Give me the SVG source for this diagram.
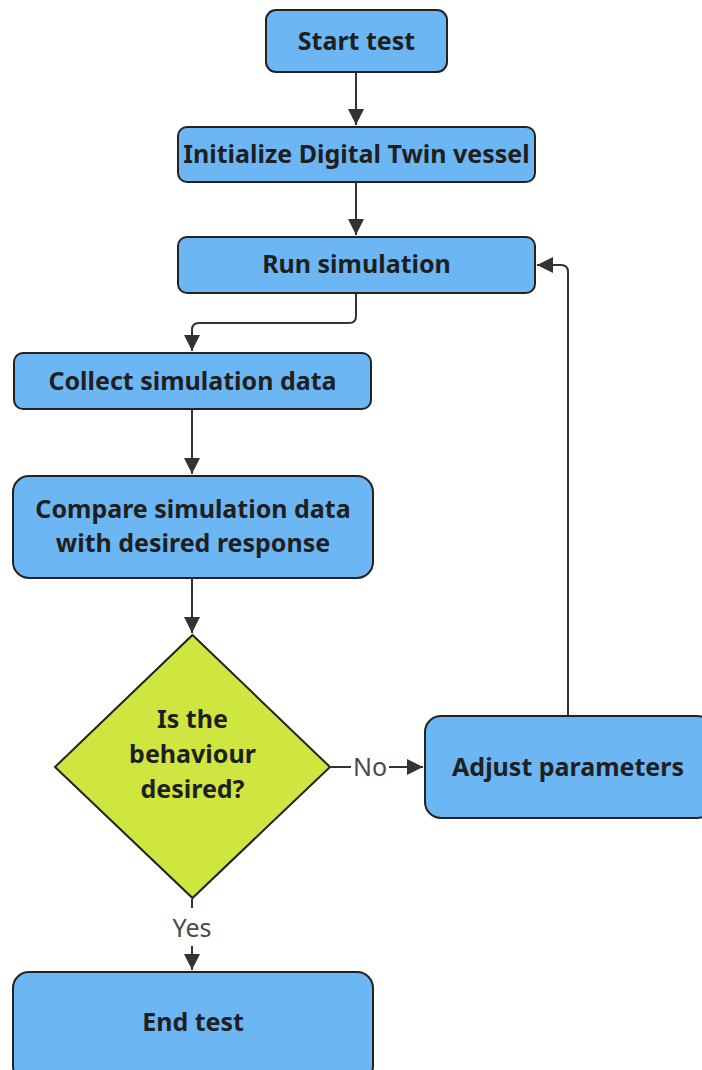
<svg xmlns="http://www.w3.org/2000/svg" width="702" height="1070" viewBox="0 0 702 1070">
  <defs>
    <style>
      .box { fill: #6cb6f3; stroke: #222; stroke-width: 2; }
      .dec { fill: #cfe641; stroke: #222; stroke-width: 2; }
      .lbl { font-family: "Noto Sans", "Open Sans", sans-serif; font-weight: bold; font-size: 25px; fill: #1f1f1f; text-anchor: middle; }
      .edge { fill: none; stroke: #333; stroke-width: 2; }
      .elbl { font-family: "Noto Sans", "Open Sans", sans-serif; font-size: 25px; fill: #4a4a4a; text-anchor: middle; }
    </style>
    <marker id="arrow" viewBox="0 0 16 16" refX="16" refY="8" markerWidth="16" markerHeight="16" markerUnits="userSpaceOnUse" orient="auto">
      <path d="M0,0 L16,8 L0,16 Z" fill="#333"/>
    </marker>
  </defs>

  <g id="connectors">
    <path class="edge" d="M356,73 V125" marker-end="url(#arrow)"/>
    <path class="edge" d="M356,183 V235" marker-end="url(#arrow)"/>
    <path class="edge" d="M356,294 V316 Q356,323 349,323 H199 Q192,323 192,330 V351" marker-end="url(#arrow)"/>
    <path class="edge" d="M192,410 V474" marker-end="url(#arrow)"/>
    <path class="edge" d="M192,579 V633" marker-end="url(#arrow)"/>
    <path class="edge" d="M331,767 H351"/>
    <path class="edge" d="M389,767 H423" marker-end="url(#arrow)"/>
    <text class="elbl" x="370" y="776">No</text>
    <path class="edge" d="M568,715 V272 Q568,265 561,265 H537" marker-end="url(#arrow)"/>
    <path class="edge" d="M192,899 V908"/>
    <path class="edge" d="M192,946 V970" marker-end="url(#arrow)"/>
    <text class="elbl" x="192" y="937">Yes</text>
  </g>

  <g id="start">
    <rect class="box" x="266" y="10" width="181" height="62" rx="10"/>
    <text class="lbl" x="356.5" y="50">Start test</text>
  </g>
  <g id="init">
    <rect class="box" x="178" y="127" width="357" height="55" rx="9"/>
    <text class="lbl" x="356.5" y="163">Initialize Digital Twin vessel</text>
  </g>
  <g id="run">
    <rect class="box" x="178" y="237" width="357" height="56" rx="9"/>
    <text class="lbl" x="356.5" y="273">Run simulation</text>
  </g>
  <g id="collect">
    <rect class="box" x="14" y="353" width="357" height="56" rx="9"/>
    <text class="lbl" x="192.5" y="390">Collect simulation data</text>
  </g>
  <g id="compare">
    <rect class="box" x="13" y="476" width="360" height="102" rx="16"/>
    <text class="lbl" x="193" y="518">Compare simulation data</text>
    <text class="lbl" x="193" y="552">with desired response</text>
  </g>
  <g id="decision">
    <polygon class="dec" points="192.5,635 330,767 192.5,898 55,767"/>
    <text class="lbl" x="192.5" y="728">Is the</text>
    <text class="lbl" x="192.5" y="763">behaviour</text>
    <text class="lbl" x="192.5" y="798">desired?</text>
  </g>
  <g id="adjust">
    <rect class="box" x="425" y="716" width="288" height="102" rx="16"/>
    <text class="lbl" x="568" y="776">Adjust parameters</text>
  </g>
  <g id="end">
    <rect class="box" x="13" y="972" width="360" height="110" rx="16"/>
    <text class="lbl" x="193" y="1031">End test</text>
  </g>
</svg>
